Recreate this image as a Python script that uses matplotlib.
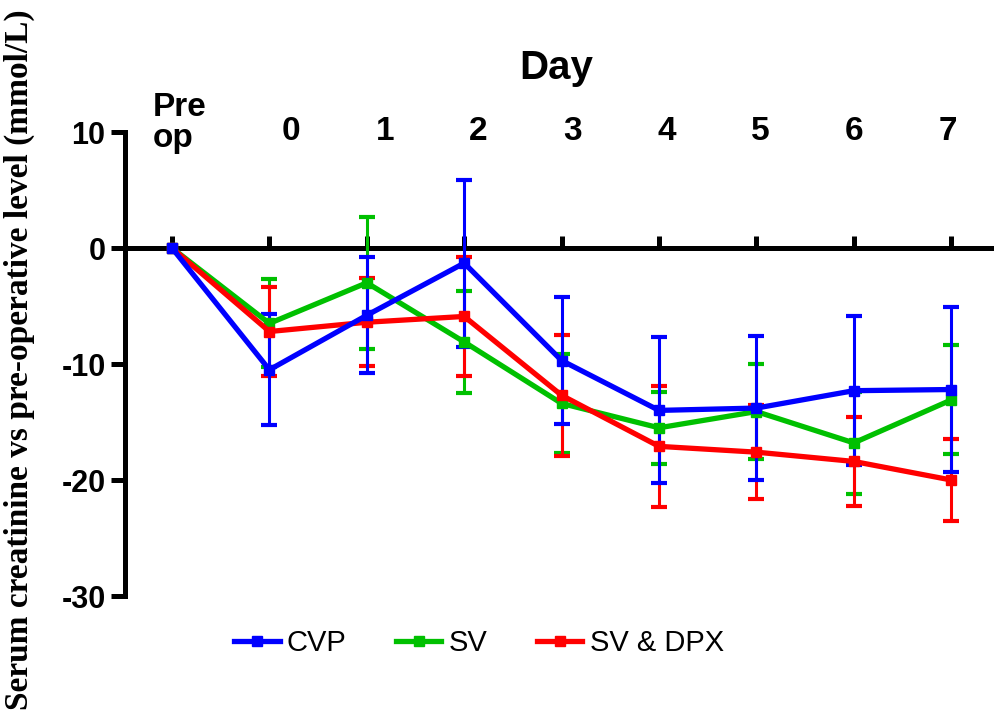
import numpy as np
import matplotlib
matplotlib.use("Agg")
import matplotlib.pyplot as plt
from matplotlib.lines import Line2D
import matplotlib.transforms as mtransforms

plt.rcParams['axes.unicode_minus'] = False

days = ["Pre\nop", "0", "1", "2", "3", "4", "5", "6", "7"]
x = np.arange(len(days))

cvp_mean = [0, -10.5, -5.8, -1.3, -9.7, -14.0, -13.8, -12.3, -12.2]
cvp_err = [np.nan, 4.8, 5.0, 7.2, 5.5, 6.3, 6.2, 6.4, 7.1]
sv_mean = [0, -6.5, -3.0, -8.1, -13.4, -15.5, -14.1, -16.8, -13.1]
sv_err = [np.nan, 3.8, 5.7, 4.4, 4.3, 3.1, 4.1, 4.4, 4.7]
dpx_mean = [0, -7.2, -6.4, -5.9, -12.7, -17.1, -17.6, -18.4, -20.0]
dpx_err = [np.nan, 3.8, 3.8, 5.1, 5.2, 5.2, 4.05, 3.8, 3.5]

series = [("SV", sv_mean, sv_err, "#00c000"),
          ("SV & DPX", dpx_mean, dpx_err, "#ff0000"),
          ("CVP", cvp_mean, cvp_err, "#0000ff")]

fig = plt.figure(figsize=(9.95, 7.22), dpi=100)
ax = fig.add_axes([125/995, 126/722, 870/995, 464/722])

for name, m, e, c in series:
    ax.errorbar(x, m, yerr=e, fmt='-s', color=c, lw=3.8, ms=7,
                elinewidth=2.2, capsize=6, capthick=3, zorder=3)

ax.set_xlim((125 - 172) / 97.4, (995 - 172) / 97.4)
ax.set_ylim(-30, 10)
ax.set_yticks([-30, -20, -10, 0, 10])
ax.spines['top'].set_visible(False)
ax.spines['right'].set_visible(False)
ax.spines['bottom'].set_position(('data', 0))
ax.spines['bottom'].set_linewidth(3.6)
ax.spines['left'].set_linewidth(3.6)
ax.spines['bottom'].set_zorder(1)
ax.set_xticks(x)
ax.set_xticklabels([])
ax.tick_params(axis='x', direction='in', length=9, width=3.6)
ax.tick_params(axis='y', direction='out', length=10, width=3.6, pad=4)
for lab in ax.get_yticklabels():
    lab.set_fontfamily('Liberation Sans')
    lab.set_fontweight('bold')
    lab.set_fontsize(22)

# day labels sit above the plot, drifting slightly left of their ticks
trans = mtransforms.blended_transform_factory(ax.transData, ax.transAxes)
for xi, d in zip(x, days):
    if xi == 0:
        ax.text(xi - 0.2, 1.02, d, transform=trans, ha='left', va='center',
                fontsize=24, fontweight='bold', family='Liberation Sans', linespacing=1.0)
    else:
        lx = 1.22 + 0.964 * (xi - 1)
        ax.text(lx, 1.0, d, transform=trans, ha='center', va='center',
                fontsize=24, fontweight='bold', family='Liberation Sans')

fig.text(556/995, 1 - 68/722, "Day", ha='center', va='center', fontsize=29,
         fontweight='bold', family='Liberation Sans')
fig.text(19/995, 1 - 360/722, "Serum creatinine vs pre-operative level (mmol/L)",
         rotation=90, ha='center', va='center', fontsize=24, fontweight='bold',
         family='Liberation Serif')

handles = [Line2D([], [], color=c, lw=3.8, marker='s', ms=7) for _, _, _, c in
           [series[2], series[0], series[1]]]
fig.legend(handles, ["CVP", "SV", "SV & DPX"], loc='center',
           bbox_to_anchor=(479/995, 79/722), ncol=3, frameon=False,
           prop={'family': 'Liberation Sans', 'size': 21},
           handlelength=1.55, handletextpad=0.25, columnspacing=1.7)

plt.savefig("out.png", dpi=100)
